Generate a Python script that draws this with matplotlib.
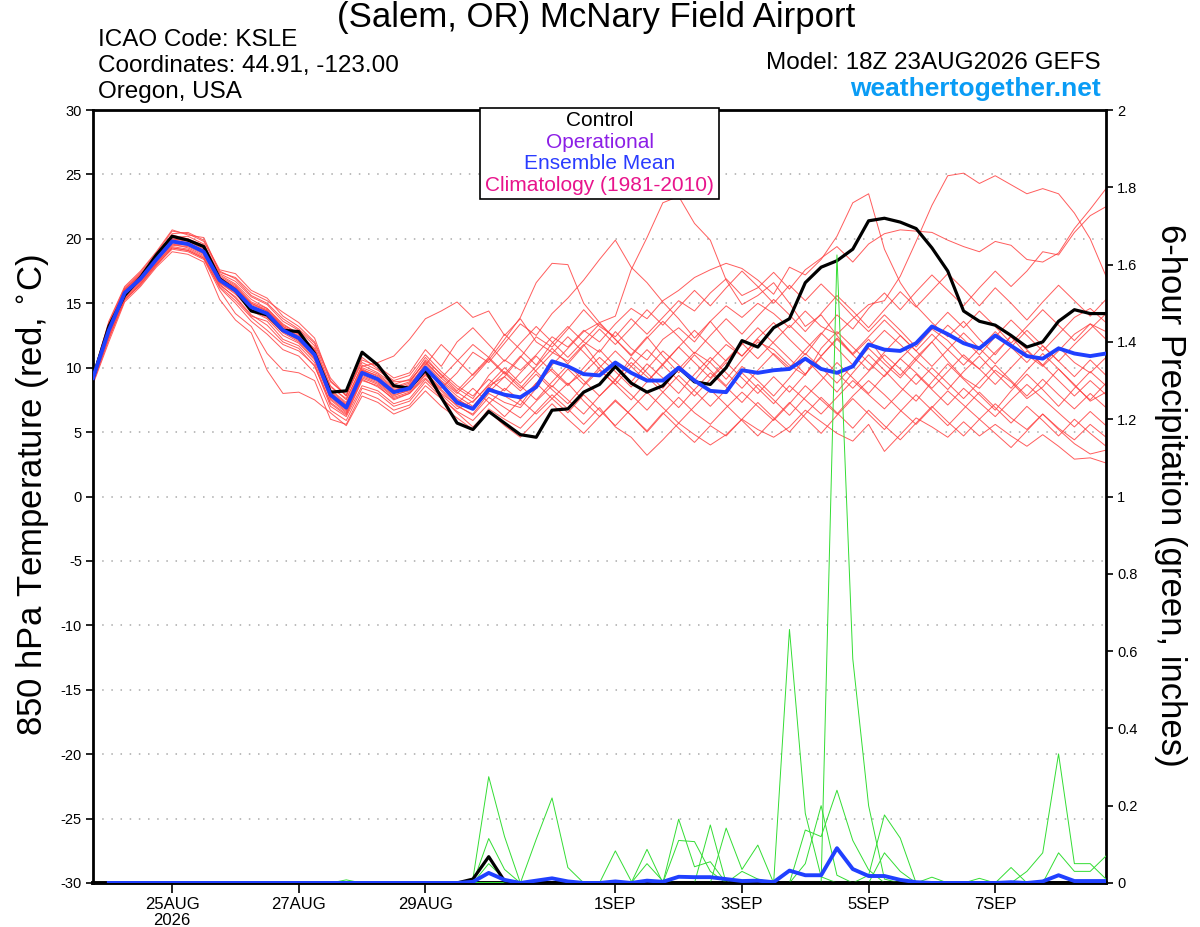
import matplotlib
matplotlib.use('Agg')
import matplotlib.pyplot as plt
from matplotlib.patches import Rectangle
import numpy as np

plt.rcParams['font.family'] = ['Liberation Sans', 'DejaVu Sans']
plt.rcParams['axes.unicode_minus'] = False

# forecast hours from 18Z 23AUG2026, every 6h
hours = np.arange(65) * 6
tick_hours = [30, 78, 126, 198, 246, 294, 342]
tick_labels = ['25AUG\n2026', '27AUG', '29AUG', '1SEP', '3SEP', '5SEP', '7SEP']

# 850 hPa temperature (C)
control_t = [9.2, 13.2, 15.6, 17.0, 18.75, 20.2, 19.9, 19.4, 16.9, 16.0,
             14.4, 14.1, 12.9, 12.8, 11.1, 8.1, 8.2, 11.2, 10.2, 8.6,
             8.4, 9.8, 7.7, 5.7, 5.2, 6.6, 5.7, 4.8, 4.6, 6.7,
             6.8, 8.1, 8.7, 10.1, 8.8, 8.1, 8.6, 10.0, 8.9, 8.7,
             10.0, 12.1, 11.6, 13.1, 13.8, 16.6, 17.8, 18.3, 19.2, 21.4,
             21.6, 21.3, 20.8, 19.3, 17.5, 14.4, 13.6, 13.3, 12.5, 11.6,
             12.0, 13.6, 14.5, 14.2, 14.2]
mean_t = [9.2, 12.9, 15.8, 16.9, 18.4, 19.8, 19.6, 19.0, 16.8, 16.0,
          14.7, 14.2, 12.9, 12.3, 11.0, 7.9, 6.9, 9.6, 9.1, 8.1,
          8.4, 10.0, 8.7, 7.3, 6.8, 8.3, 7.9, 7.7, 8.5, 10.5,
          10.1, 9.5, 9.4, 10.4, 9.6, 9.0, 9.0, 10.0, 9.0, 8.2,
          8.1, 9.8, 9.6, 9.8, 9.9, 10.7, 9.9, 9.6, 10.1, 11.8,
          11.4, 11.3, 11.9, 13.2, 12.6, 11.9, 11.5, 12.5, 11.7, 10.9,
          10.7, 11.5, 11.1, 10.9, 11.1]

members_t = [
    [9.0, 13.3, 16.0, 17.2, 18.8, 20.3, 20.0, 19.5, 17.2, 16.5,
     15.3, 14.6, 13.4, 12.6, 11.5, 8.5, 7.6, 10.1, 10.4, 10.9,
     12.2, 13.8, 14.4, 15.1, 13.9, 14.4, 12.5, 13.8, 12.0, 11.2,
     10.5, 11.8, 10.2, 9.0, 10.8, 9.6, 8.4, 9.9, 11.2, 10.4,
     9.1, 10.6, 12.0, 11.4, 10.2, 9.4, 11.5, 12.8, 11.6, 10.4,
     9.3, 10.7, 11.9, 13.0, 12.1, 10.8, 9.9, 11.2, 12.4, 11.0,
     10.1, 11.3, 12.6, 13.4, 12.8],
    [9.3, 12.6, 15.5, 16.7, 18.1, 19.5, 19.4, 18.8, 16.5, 15.4,
     14.0, 13.6, 12.2, 11.7, 10.4, 7.2, 6.3, 9.0, 8.6, 7.5,
     8.0, 9.4, 8.2, 7.0, 6.4, 8.0, 7.3, 6.9, 8.4, 10.2,
     11.5, 12.8, 13.5, 14.0, 17.6, 20.1, 22.8, 23.3, 21.2, 19.9,
     16.8, 14.9, 15.6, 16.6, 15.0, 13.2, 14.1, 12.5, 11.0, 12.2,
     10.6, 9.4, 10.8, 12.0, 10.5, 9.2, 8.4, 9.8, 8.9, 7.6,
     8.5, 9.9, 8.7, 7.4, 8.1],
    [9.1, 13.0, 15.9, 17.0, 18.6, 20.0, 19.9, 19.3, 17.0, 16.2,
     15.0, 14.4, 13.2, 12.4, 11.2, 8.0, 7.0, 9.8, 9.4, 8.4,
     8.8, 10.6, 9.5, 8.4, 7.6, 9.4, 10.6, 9.8, 11.0, 12.4,
     11.6, 12.9, 12.0, 13.4, 14.6, 13.8, 15.2, 16.0, 17.0, 17.6,
     18.1, 17.7, 16.8, 15.7, 17.8, 17.2, 18.4, 20.2, 22.8, 23.5,
     19.2, 16.6, 14.8, 13.5, 12.4, 13.6, 12.2, 11.0, 12.5, 11.4,
     10.2, 11.6, 10.4, 9.6, 10.8],
    [9.4, 13.5, 16.2, 17.4, 18.9, 20.6, 20.4, 19.8, 17.5, 16.9,
     15.6, 15.0, 13.8, 13.0, 11.9, 8.9, 7.9, 10.4, 9.8, 8.9,
     9.0, 10.4, 9.2, 10.5, 11.8, 10.8, 12.6, 11.4, 10.2, 11.9,
     13.2, 12.0, 11.2, 12.8, 11.5, 10.6, 12.2, 13.1, 12.0, 13.6,
     14.8, 13.9, 15.0, 14.2, 13.1, 14.4, 13.2, 12.6, 13.8, 14.9,
     15.2, 17.1, 19.8, 22.6, 24.9, 25.1, 24.3, 24.9, 24.2, 23.5,
     23.9, 23.5, 22.0, 20.0, 17.1],
    [8.8, 12.2, 15.3, 16.5, 18.0, 19.3, 19.1, 18.5, 16.3, 15.2,
     13.9, 12.9, 11.8, 11.3, 10.2, 7.0, 6.2, 8.6, 8.2, 7.2,
     7.6, 9.1, 7.9, 6.8, 7.4, 8.6, 9.3, 10.8, 12.4, 11.6,
     13.0, 14.5, 13.2, 12.4, 13.8, 12.6, 13.9, 15.2, 14.4, 15.8,
     16.9, 15.6, 16.2, 17.4, 16.1, 17.6, 18.5, 19.4, 18.2, 19.6,
     20.4, 20.7, 20.6, 20.5, 19.9, 19.4, 19.0, 19.8, 19.5, 18.4,
     18.2, 18.9, 20.8, 22.3, 23.9],
    [9.0, 12.8, 15.6, 16.8, 18.3, 19.7, 19.5, 18.9, 16.6, 15.8,
     14.6, 14.1, 12.8, 12.1, 10.9, 7.7, 6.7, 9.4, 8.9, 7.9,
     8.2, 9.8, 8.6, 7.5, 6.9, 8.5, 7.8, 7.1, 8.8, 9.9,
     8.7, 9.6, 10.8, 9.7, 8.5, 9.9, 11.3, 10.2, 9.0, 10.5,
     11.8, 10.9, 12.3, 13.5, 12.2, 11.0, 12.6, 14.1, 13.0, 14.6,
     15.8, 14.5, 15.9, 17.2, 16.0, 14.8, 16.2, 17.5, 16.3, 17.5,
     19.0, 18.75, 20.5, 21.8, 22.5],
    [9.2, 13.1, 15.9, 17.1, 18.5, 20.0, 19.8, 19.2, 16.9, 16.2,
     14.9, 14.4, 13.1, 12.5, 11.3, 8.2, 7.2, 9.9, 9.3, 8.3,
     8.6, 10.3, 9.0, 8.0, 9.2, 10.6, 12.2, 13.9, 16.6, 18.1,
     18.0, 15.0, 13.5, 12.2, 11.0, 12.4, 10.9, 9.6, 11.0, 9.8,
     8.6, 10.1, 9.0, 7.8, 9.2, 10.7, 9.4, 8.1, 9.6, 11.0,
     9.8, 8.5, 7.4, 8.9, 10.3, 9.1, 7.9, 6.7, 8.2, 9.5,
     8.3, 7.0, 8.4, 9.7, 8.6],
    [9.1, 12.7, 15.7, 16.8, 18.3, 19.6, 19.5, 18.9, 16.7, 15.9,
     14.5, 13.9, 12.7, 12.0, 10.7, 7.6, 6.6, 9.3, 8.8, 7.8,
     8.3, 9.6, 8.4, 9.6, 11.2, 10.4, 11.9, 13.4, 12.5, 14.2,
     15.4, 16.8, 18.4, 19.9, 17.8, 16.6, 15.1, 13.8, 12.3, 13.6,
     12.1, 10.9, 12.2, 11.0, 9.8, 11.1, 10.0, 8.8, 10.2, 11.5,
     10.3, 9.2, 10.6, 9.5, 8.3, 9.7, 10.9, 9.6, 8.4, 9.8,
     11.1, 9.9, 8.6, 7.5, 8.8],
    [8.7, 12.0, 15.1, 16.3, 17.8, 19.0, 18.8, 18.2, 15.3, 13.7,
     12.7, 9.8, 8.0, 8.1, 7.5, 6.5, 5.5, 7.8, 7.3, 6.4,
     6.9, 8.2, 7.0, 6.1, 5.2, 6.8, 6.0, 5.3, 6.6, 7.9,
     6.8, 5.6, 6.9, 5.4, 4.6, 3.2, 4.4, 5.7, 4.8, 4.0,
     4.8, 6.0, 5.2, 4.6, 5.4, 6.7, 5.8, 4.9, 4.3, 5.6,
     3.5, 4.8, 6.1, 5.4, 4.6, 5.8, 4.7, 5.6, 4.7, 3.9,
     4.8, 3.9, 2.9, 3.0, 2.6],
    [8.9, 12.3, 15.2, 16.5, 18.0, 19.2, 19.0, 18.4, 16.0, 14.2,
     13.2, 11.1, 9.8, 9.6, 9.0, 6.0, 5.6, 8.1, 7.6, 6.7,
     7.1, 8.6, 7.6, 6.6, 5.9, 7.2, 8.4, 7.5, 6.4, 7.6,
     8.8, 7.4, 6.2, 7.5, 6.3, 5.0, 6.4, 7.7, 6.5, 5.6,
     6.9, 8.1, 7.0, 5.9, 7.2, 8.6, 7.5, 6.4, 7.8, 9.0,
     7.9, 6.7, 5.6, 6.9, 8.2, 7.1, 6.0, 7.2, 6.1, 5.2,
     6.4, 5.3, 4.4, 5.6, 4.6],
    [9.3, 13.4, 16.1, 17.3, 18.7, 20.4, 20.5, 19.9, 17.6, 17.3,
     16.0, 15.4, 14.0, 13.2, 12.0, 9.2, 7.8, 10.8, 9.9, 9.0,
     9.4, 11.0, 9.7, 8.6, 7.8, 9.1, 8.2, 9.6, 10.9, 9.7,
     8.6, 10.0, 11.4, 10.1, 8.9, 10.3, 9.2, 8.0, 9.5, 10.8,
     9.6, 8.4, 9.8, 11.1, 10.0, 11.4, 12.7, 11.5, 10.2, 11.6,
     12.9, 11.8, 10.6, 12.0, 13.3, 12.2, 11.0, 12.4, 13.7, 12.5,
     11.3, 12.6, 13.9, 14.6, 13.5],
    [9.0, 12.5, 15.4, 16.6, 18.1, 19.4, 19.2, 18.6, 16.4, 15.5,
     14.1, 13.3, 12.0, 11.5, 10.1, 7.3, 6.4, 9.1, 8.5, 7.6,
     8.0, 9.2, 8.0, 7.1, 6.3, 7.7, 6.9, 6.1, 7.4, 8.6,
     7.5, 6.4, 7.8, 9.0, 7.9, 6.7, 8.1, 9.4, 8.2, 7.0,
     8.3, 9.6, 8.4, 7.2, 8.6, 7.5, 6.4, 7.7, 9.0, 7.9,
     6.8, 8.1, 9.5, 8.3, 7.1, 8.4, 7.3, 6.2, 7.5, 8.7,
     7.6, 6.5, 5.4, 6.6, 5.5],
    [9.4, 13.6, 16.3, 17.5, 19.0, 20.7, 20.3, 20.1, 17.4, 17.0,
     15.8, 15.2, 14.3, 13.5, 12.3, 9.0, 7.8, 10.6, 10.1, 9.2,
     9.6, 11.4, 10.1, 12.0, 13.1, 11.8, 10.5, 11.9, 13.2, 12.0,
     10.8, 12.1, 13.4, 12.2, 10.9, 12.3, 13.6, 12.4, 11.1, 12.5,
     13.8, 12.6, 14.0, 15.3, 14.1, 12.8, 14.2, 15.6, 14.4, 13.1,
     14.5, 15.9, 14.7, 16.0, 17.3, 16.1, 14.8, 16.2, 15.0, 13.7,
     15.1, 16.4, 15.2, 14.0, 15.3],
    [9.1, 12.9, 15.8, 16.9, 18.4, 19.9, 19.7, 19.1, 16.9, 16.1,
     14.8, 14.3, 13.0, 12.3, 11.1, 8.0, 7.1, 9.7, 9.2, 8.2,
     8.5, 10.1, 8.9, 7.8, 7.0, 8.4, 9.7, 8.6, 7.5, 8.9,
     10.2, 9.0, 7.8, 9.1, 10.4, 9.3, 8.1, 6.9, 8.3, 9.6,
     8.5, 7.3, 8.7, 7.5, 6.3, 7.7, 9.0, 10.4, 9.2, 8.0,
     9.4, 10.7, 9.6, 8.4, 9.7, 11.0, 9.9, 8.7, 10.0, 11.3,
     10.2, 9.0, 7.8, 9.0, 7.9],
    [9.2, 13.2, 16.1, 17.2, 18.6, 20.1, 20.2, 19.6, 17.3, 16.7,
     15.5, 14.9, 13.6, 12.9, 11.7, 8.6, 7.5, 10.2, 9.6, 8.7,
     9.1, 10.8, 9.4, 8.2, 9.5, 10.8, 9.6, 8.4, 9.8, 11.1,
     12.4, 11.2, 9.9, 8.7, 10.1, 11.4, 10.2, 11.6, 12.9, 11.7,
     10.5, 11.8, 13.1, 11.9, 10.7, 9.5, 10.9, 12.2, 11.0, 9.8,
     11.2, 12.5, 11.3, 10.1, 11.4, 12.7, 11.5, 10.3, 11.6, 12.9,
     11.7, 10.5, 11.8, 13.0, 14.2],
    [8.9, 12.4, 15.3, 16.4, 17.9, 19.3, 19.1, 18.5, 16.2, 15.0,
     13.6, 12.6, 11.4, 10.9, 9.6, 6.7, 5.9, 8.4, 8.0, 7.0,
     7.4, 8.9, 7.7, 6.5, 5.4, 6.6, 5.5, 4.6, 5.9, 7.2,
     6.0, 4.9, 6.2, 7.4, 6.3, 5.1, 6.5, 5.3, 4.2, 5.5,
     4.7, 6.0, 7.3, 6.1, 5.0, 6.4, 7.7, 6.5, 5.3, 6.7,
     5.5, 4.4, 5.7, 7.0, 5.8, 4.7, 6.0, 4.9, 3.8, 5.1,
     6.4, 5.2, 4.1, 3.3, 3.6],
    [9.3, 13.0, 15.9, 17.1, 18.6, 20.2, 19.9, 19.4, 17.1, 16.4,
     15.1, 14.6, 13.3, 12.7, 11.4, 8.3, 7.3, 10.0, 9.5, 8.5,
     8.9, 10.5, 9.2, 8.1, 7.3, 8.7, 10.0, 8.8, 10.1, 11.5,
     10.3, 11.7, 13.0, 11.8, 13.1, 14.5, 13.3, 14.7, 16.0, 14.8,
     16.2, 17.5, 16.3, 15.0, 16.4, 15.2, 16.5, 15.3, 14.0, 12.8,
     14.1, 12.9, 11.6, 13.0, 14.3, 13.1, 14.4, 13.2, 11.9, 13.2,
     14.5, 13.3, 12.1, 13.4, 12.2],
    [9.0, 12.7, 15.6, 16.7, 18.2, 19.6, 19.3, 18.7, 16.6, 15.7,
     14.4, 13.8, 12.5, 11.9, 10.6, 7.5, 6.5, 9.2, 8.7, 7.7,
     8.1, 9.5, 8.3, 7.2, 8.4, 7.3, 6.2, 7.5, 8.8, 7.6,
     6.5, 7.9, 6.7, 5.5, 6.8, 8.1, 6.9, 5.7, 7.0, 8.3,
     7.1, 5.9, 4.7, 6.0, 7.3, 6.1, 4.9, 6.3, 7.6, 6.4,
     5.2, 6.6, 7.9, 6.7, 5.5, 6.8, 8.1, 6.9, 5.7, 7.0,
     5.9, 4.7, 6.0, 4.9, 3.9],
    [9.2, 13.1, 16.0, 17.0, 18.5, 19.9, 20.0, 19.4, 17.0, 16.3,
     15.0, 14.5, 13.2, 12.6, 11.3, 8.1, 7.1, 9.8, 9.2, 8.2,
     8.7, 10.2, 11.8, 10.6, 9.4, 10.7, 9.5, 10.9, 9.7, 8.5,
     9.9, 8.7, 10.0, 11.3, 10.1, 8.9, 10.3, 11.6, 10.4, 9.2,
     10.6, 11.9, 10.7, 12.0, 13.3, 12.1, 10.9, 12.3, 11.1, 12.4,
     13.7, 12.5, 11.3, 12.6, 11.4, 10.2, 11.5, 12.8, 11.6, 10.4,
     11.7, 10.5, 9.3, 10.6, 9.4],
    [9.1, 12.8, 15.7, 16.8, 18.4, 19.8, 19.6, 19.0, 16.8, 15.9,
     14.6, 14.0, 12.8, 12.2, 10.8, 7.8, 6.8, 9.5, 9.0, 8.0,
     8.4, 9.9, 8.7, 7.6, 6.8, 8.1, 9.3, 8.2, 9.5, 8.3,
     7.2, 8.6, 9.8, 8.7, 7.5, 8.9, 10.2, 9.0, 7.8, 9.1,
     10.4, 9.2, 8.0, 9.3, 8.1, 9.5, 10.8, 9.6, 8.4, 9.7,
     11.0, 9.9, 8.7, 10.0, 8.8, 7.6, 8.9, 10.2, 9.0, 7.8,
     9.1, 7.9, 6.8, 8.0, 6.9],
]

# 6-hour precipitation (inches), nonzero steps only (step index -> value)
control_p = {24: 0.01, 25: 0.068, 26: 0.005}
mean_p = {24: 0.003, 25: 0.026, 26: 0.008, 28: 0.006, 29: 0.012, 30: 0.004,
          33: 0.004, 35: 0.006, 36: 0.003, 37: 0.016, 38: 0.015, 39: 0.015,
          40: 0.01, 41: 0.005, 42: 0.006, 43: 0.002, 44: 0.032, 45: 0.02,
          46: 0.02, 47: 0.09, 48: 0.036, 49: 0.018, 50: 0.018, 51: 0.008,
          52: 0.002, 58: 0.002, 60: 0.004, 61: 0.02, 62: 0.005, 63: 0.005,
          64: 0.005}
members_p = [
    {24: 0.01, 25: 0.275, 26: 0.12},
    {25: 0.115, 26: 0.035},
    {16: 0.008, 25: 0.05, 26: 0.01},
    {28: 0.113, 29: 0.22, 30: 0.04},
    {33: 0.083, 34: 0.005},
    {35: 0.087},
    {35: 0.05, 36: 0.005},
    {37: 0.165, 38: 0.042, 39: 0.055},
    {37: 0.11, 38: 0.107, 39: 0.03},
    {39: 0.15},
    {40: 0.142, 41: 0.035, 42: 0.098},
    {41: 0.03, 42: 0.01, 44: 0.656, 45: 0.18, 46: 0.016},
    {47: 1.625, 48: 0.58, 49: 0.2, 50: 0.01},
    {45: 0.05, 46: 0.2, 47: 0.02},
    {45: 0.137, 46: 0.12, 47: 0.24, 48: 0.11, 49: 0.034},
    {49: 0.02, 50: 0.176, 51: 0.116},
    {50: 0.078, 51: 0.03, 53: 0.015},
    {56: 0.012, 58: 0.04},
    {59: 0.03, 60: 0.078, 61: 0.334, 62: 0.05, 63: 0.05, 64: 0.01},
    {61: 0.078, 62: 0.03, 63: 0.03, 64: 0.07},
]


def precip_series(steps):
    vals = np.zeros(len(hours))
    for k, v in steps.items():
        vals[k] = v
    return vals[1:]


for m in members_t:
    assert len(m) == len(hours)

fig = plt.figure(figsize=(12, 9.27), dpi=100)
ax = fig.add_axes([0.0775, 0.0475, 0.8442, 0.8338])

for v in range(-25, 30, 5):
    ax.axhline(v, color='#aaaaaa', lw=1.1, ls=(0, (1, 5)), zorder=0)

for m in members_t:
    ax.plot(hours, m, color='#ff4040', lw=0.7, alpha=0.85, zorder=2)
ax.plot(hours, control_t, color='black', lw=2.3, zorder=4)
ax.plot(hours, mean_t, color='#2040ff', lw=2.8, zorder=5)

ax.set_xlim(0, 384)
ax.set_ylim(-30, 30)
ax.set_yticks(range(-30, 31, 5))
ax.set_yticklabels([str(v) for v in range(-30, 31, 5)], fontsize=10.5)
ax.set_xticks(tick_hours)
ax.set_xticklabels(tick_labels, fontsize=12, linespacing=1.1)
ax.tick_params(axis='y', direction='out', length=5, width=1.2, pad=3)
ax.tick_params(axis='x', direction='out', length=7, width=1.2, pad=3)
for side in ['left', 'right', 'top']:
    ax.spines[side].set_linewidth(2)
ax.spines['bottom'].set_linewidth(2.8)

ax2 = ax.twinx()
for p in members_p:
    ax2.plot(hours[1:], precip_series(p), color='#33dd33', lw=0.7, zorder=2)
ax2.plot(hours[1:], precip_series(control_p), color='black', lw=2.3, zorder=4)
ax2.plot(hours[1:], precip_series(mean_p), color='#2040ff', lw=2.8, zorder=5)
ax2.set_ylim(0, 2)
ax2.set_xlim(0, 384)
rticks = np.round(np.arange(0, 2.01, 0.2), 1)
ax2.set_yticks(rticks)
ax2.set_yticklabels(['%g' % t for t in rticks], fontsize=10.5)
ax2.tick_params(axis='y', direction='out', length=5, width=1.2, pad=3)
for side in ['left', 'right', 'top', 'bottom']:
    ax2.spines[side].set_visible(False)

fig.text(0.0275, 0.466, '850 hPa Temperature (red, $^{\\circ}$C)', rotation=90,
         fontsize=25, ha='center', va='center')
fig.text(0.975, 0.466, '6-hour Precipitation (green, inches)', rotation=-90,
         fontsize=25, ha='center', va='center')

fig.text(0.497, 0.9806, '(Salem, OR) McNary Field Airport', fontsize=25,
         ha='center', va='center')
fig.text(0.0817, 0.9569, 'ICAO Code: KSLE', fontsize=17.5, va='center')
fig.text(0.0817, 0.9288, 'Coordinates: 44.91, -123.00', fontsize=17.5, va='center')
fig.text(0.0817, 0.9008, 'Oregon, USA', fontsize=17.5, va='center')
fig.text(0.9175, 0.932, 'Model: 18Z 23AUG2026 GEFS', fontsize=17.5,
         ha='right', va='center')
fig.text(0.9175, 0.904, 'weathertogether.net', fontsize=19, fontweight='bold',
         color='#0a9cf5', ha='right', va='center')

box = Rectangle((0.4, 0.7853), 0.1992, 0.0982, transform=fig.transFigure,
                fc='white', ec='black', lw=1.2, zorder=5)
fig.patches.append(box)
legend_items = [('Control', 'black'), ('Operational', '#8c1ee6'),
                ('Ensemble Mean', '#2a3cff'), ('Climatology (1981-2010)', '#e8148c')]
for k, (label, col) in enumerate(legend_items):
    fig.text(0.4996, 0.8695 - k * 0.0232, label, color=col, fontsize=15,
             ha='center', va='center', zorder=6)

fig.savefig('out.png', dpi=100)
